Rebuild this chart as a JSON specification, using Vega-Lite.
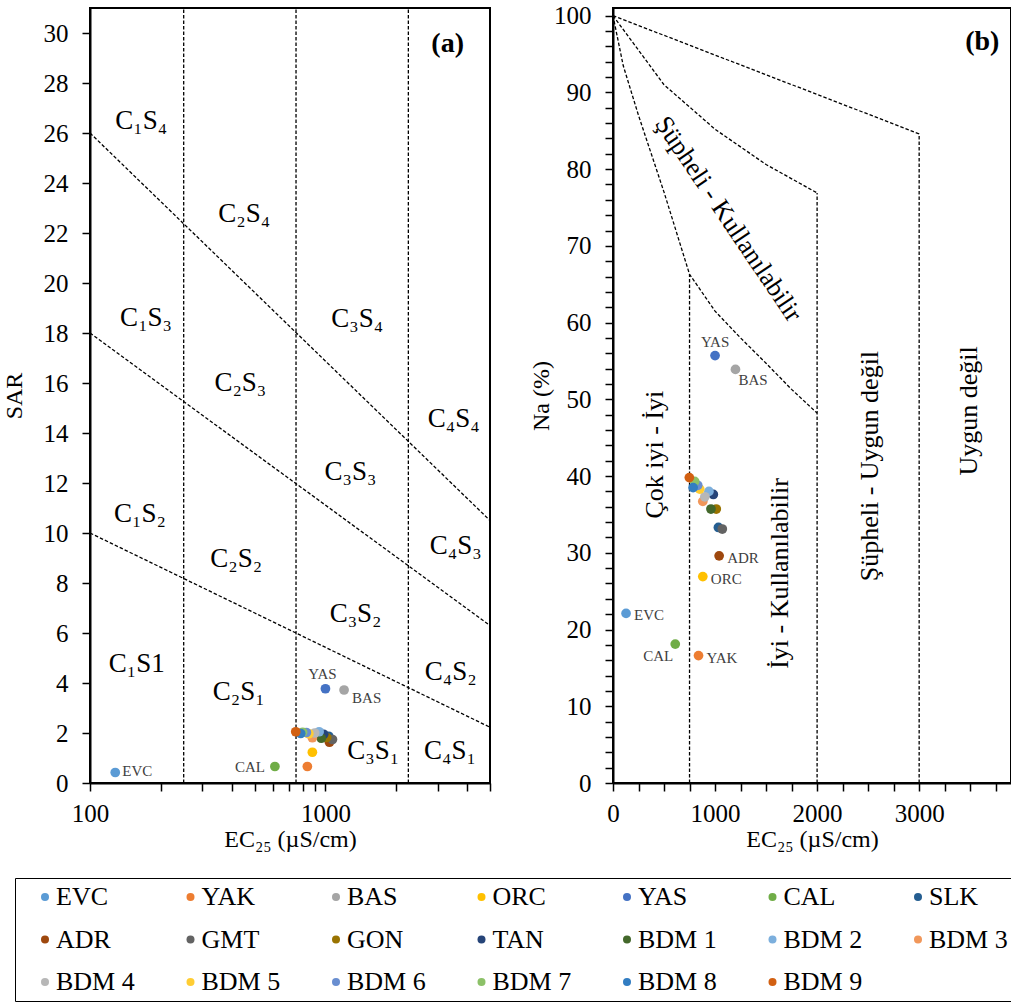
{
  "$schema": "https://vega.github.io/schema/vega-lite/v6.json",
  "autosize": {"type": "none"},
  "padding": {"left": 90, "top": 8, "right": 921, "bottom": 995},
  "background": "white",
  "config": {
    "font": "Liberation Serif",
    "view": {"stroke": "black", "strokeWidth": 2},
    "axis": {
      "grid": false,
      "domainColor": "black",
      "domainWidth": 2,
      "tickColor": "black",
      "tickWidth": 1.5,
      "tickSize": 8,
      "labelColor": "black",
      "labelFont": "Liberation Serif",
      "labelFontSize": 25,
      "labelPadding": 14,
      "labelOverlap": false,
      "labelFlush": false,
      "titleFont": "Liberation Serif",
      "titleFontSize": 24,
      "titleFontWeight": "normal",
      "titleColor": "black"
    }
  },
  "datasets": {
    "samples": [
      {"site": "EVC", "EC": 128, "SAR": 0.42, "Na": 22.1},
      {"site": "YAK", "EC": 838, "SAR": 0.66, "Na": 16.6},
      {"site": "BAS", "EC": 1200, "SAR": 3.72, "Na": 53.9},
      {"site": "ORC", "EC": 880, "SAR": 1.23, "Na": 26.9},
      {"site": "YAS", "EC": 1000, "SAR": 3.77, "Na": 55.7},
      {"site": "CAL", "EC": 610, "SAR": 0.66, "Na": 18.1},
      {"site": "SLK", "EC": 1033, "SAR": 1.87, "Na": 33.3},
      {"site": "ADR", "EC": 1040, "SAR": 1.63, "Na": 29.6},
      {"site": "GMT", "EC": 1071, "SAR": 1.74, "Na": 33.1},
      {"site": "GON", "EC": 1012, "SAR": 1.82, "Na": 35.7},
      {"site": "TAN", "EC": 983, "SAR": 1.95, "Na": 37.6},
      {"site": "BDM 1", "EC": 960, "SAR": 1.79, "Na": 35.7},
      {"site": "BDM 2", "EC": 940, "SAR": 2.05, "Na": 38.0},
      {"site": "BDM 3", "EC": 880, "SAR": 1.81, "Na": 36.7},
      {"site": "BDM 4", "EC": 900, "SAR": 2.0, "Na": 37.3},
      {"site": "BDM 5", "EC": 850, "SAR": 1.97, "Na": 38.3},
      {"site": "BDM 6", "EC": 830, "SAR": 2.02, "Na": 38.8},
      {"site": "BDM 7", "EC": 800, "SAR": 2.03, "Na": 39.3},
      {"site": "BDM 8", "EC": 785, "SAR": 1.98, "Na": 38.5},
      {"site": "BDM 9", "EC": 748, "SAR": 2.05, "Na": 39.8}
    ],
    "linesA": [
      {"id": "L1", "EC": 100, "SAR": 26, "o": 1},
      {"id": "L1", "EC": 5000, "SAR": 10.5, "o": 2},
      {"id": "L2", "EC": 100, "SAR": 18, "o": 1},
      {"id": "L2", "EC": 5000, "SAR": 6.3, "o": 2},
      {"id": "L3", "EC": 100, "SAR": 10, "o": 1},
      {"id": "L3", "EC": 5000, "SAR": 2.23, "o": 2},
      {"id": "V1", "EC": 250, "SAR": 0, "o": 1},
      {"id": "V1", "EC": 250, "SAR": 31, "o": 2},
      {"id": "V2", "EC": 750, "SAR": 0, "o": 1},
      {"id": "V2", "EC": 750, "SAR": 31, "o": 2},
      {"id": "V3", "EC": 2250, "SAR": 0, "o": 1},
      {"id": "V3", "EC": 2250, "SAR": 31, "o": 2}
    ],
    "zonesA": [
      {"label": "C₁S₄", "EC": 165, "SAR": 26.5},
      {"label": "C₂S₄", "EC": 452, "SAR": 22.75},
      {"label": "C₁S₃", "EC": 173, "SAR": 18.6},
      {"label": "C₃S₄", "EC": 1365, "SAR": 18.55},
      {"label": "C₂S₃", "EC": 435, "SAR": 16.0},
      {"label": "C₄S₄", "EC": 3508, "SAR": 14.55},
      {"label": "C₃S₃", "EC": 1277, "SAR": 12.43},
      {"label": "C₁S₂", "EC": 163, "SAR": 10.76},
      {"label": "C₄S₃", "EC": 3573, "SAR": 9.5},
      {"label": "C₂S₂", "EC": 418, "SAR": 8.96},
      {"label": "C₃S₂", "EC": 1343, "SAR": 6.77},
      {"label": "C₁S1", "EC": 158, "SAR": 4.77},
      {"label": "C₄S₂", "EC": 3404, "SAR": 4.43},
      {"label": "C₂S₁", "EC": 428, "SAR": 3.64},
      {"label": "C₃S₁", "EC": 1596, "SAR": 1.3},
      {"label": "C₄S₁", "EC": 3380, "SAR": 1.3}
    ],
    "linesB": [
      {"id": "C1", "EC": 0, "Na": 100, "o": 1},
      {"id": "C1", "EC": 100, "Na": 93.5, "o": 2},
      {"id": "C1", "EC": 250, "Na": 87, "o": 3},
      {"id": "C1", "EC": 500, "Na": 77, "o": 4},
      {"id": "C1", "EC": 750, "Na": 66.3, "o": 5},
      {"id": "C1", "EC": 1000, "Na": 61.5, "o": 6},
      {"id": "C1", "EC": 1250, "Na": 58, "o": 7},
      {"id": "C1", "EC": 1500, "Na": 54.7, "o": 8},
      {"id": "C1", "EC": 1750, "Na": 51.3, "o": 9},
      {"id": "C1", "EC": 2000, "Na": 48.2, "o": 10},
      {"id": "C2", "EC": 0, "Na": 100, "o": 1},
      {"id": "C2", "EC": 500, "Na": 91, "o": 2},
      {"id": "C2", "EC": 1000, "Na": 85.2, "o": 3},
      {"id": "C2", "EC": 1500, "Na": 80.6, "o": 4},
      {"id": "C2", "EC": 2000, "Na": 76.9, "o": 5},
      {"id": "C3", "EC": 0, "Na": 100, "o": 1},
      {"id": "C3", "EC": 3000, "Na": 84.6, "o": 2},
      {"id": "V750", "EC": 750, "Na": 0, "o": 1},
      {"id": "V750", "EC": 750, "Na": 66.3, "o": 2},
      {"id": "V2000", "EC": 2000, "Na": 0, "o": 1},
      {"id": "V2000", "EC": 2000, "Na": 76.9, "o": 2},
      {"id": "V3000", "EC": 3000, "Na": 0, "o": 1},
      {"id": "V3000", "EC": 3000, "Na": 84.6, "o": 2}
    ],
    "zonesBv": [
      {"label": "Çok iyi - İyi", "EC": 410, "Na": 42.8},
      {"label": "İyi - Kullanılabilir", "EC": 1637, "Na": 27.3},
      {"label": "Şüpheli - Uygun değil", "EC": 2520, "Na": 41.3},
      {"label": "Uygun değil", "EC": 3485, "Na": 48.5}
    ],
    "zonesBd": [
      {"label": "Şüpheli - Kullanılabilir", "EC": 1130, "Na": 73.5}
    ]
  },
  "bounds": "flush",
  "spacing": 123,
  "hconcat": [
    {
      "width": 400,
      "height": 775,
      "encoding": {
        "x": {
          "field": "EC", "type": "quantitative",
          "scale": {"type": "log", "domain": [100, 5000], "nice": false},
          "axis": {
            "values": [100, 200, 300, 400, 500, 600, 700, 800, 900, 1000, 2000, 3000, 4000, 5000],
            "format": "d",
            "labelExpr": "datum.value == 100 || datum.value == 1000 ? datum.label : ''",
            "labelPadding": 10,
            "titlePadding": 1
          },
          "title": "EC₂₅ (µS/cm)"
        },
        "y": {
          "field": "SAR", "type": "quantitative",
          "scale": {"domain": [0, 31], "nice": false},
          "axis": {
            "values": [0, 2, 4, 6, 8, 10, 12, 14, 16, 18, 20, 22, 24, 26, 28, 30],
            "format": "d",
            "titlePadding": 17
          },
          "title": "SAR"
        }
      },
      "layer": [
        {
          "data": {"name": "linesA"},
          "mark": {"type": "line", "color": "black", "strokeWidth": 1.3, "strokeDash": [3.5, 2]},
          "encoding": {"detail": {"field": "id"}, "order": {"field": "o"}}
        },
        {
          "data": {"name": "zonesA"},
          "mark": {"type": "text", "fontSize": 27, "align": "center", "baseline": "middle", "color": "black"},
          "encoding": {"text": {"field": "label"}}
        },
        {
          "data": {"values": [{"label": "(a)", "EC": 3304, "SAR": 29.55}]},
          "mark": {"type": "text", "fontSize": 28, "fontWeight": "bold", "align": "center", "baseline": "middle", "color": "black"},
          "encoding": {"text": {"field": "label"}}
        },
        {
          "data": {"name": "samples"},
          "mark": {"type": "circle", "size": 95, "opacity": 1},
          "encoding": {
            "color": {
              "field": "site", "type": "nominal",
              "scale": {
                "domain": ["EVC", "YAK", "BAS", "ORC", "YAS", "CAL", "SLK", "ADR", "GMT", "GON", "TAN", "BDM 1", "BDM 2", "BDM 3", "BDM 4", "BDM 5", "BDM 6", "BDM 7", "BDM 8", "BDM 9"],
                "range": ["#5B9BD5", "#ED7D31", "#A5A5A5", "#FFC000", "#4472C4", "#70AD47", "#255E91", "#9E480E", "#636363", "#997300", "#264478", "#43682B", "#7CAFDD", "#F1975A", "#B7B7B7", "#FFCD33", "#698ED0", "#8CC168", "#327DC2", "#D26012"]
              },
              "legend": {
                "orient": "none", "legendX": -75, "legendY": 870,
                "title": null, "columns": 7, "direction": "horizontal",
                "symbolType": "circle", "symbolSize": 64, "symbolOpacity": 1,
                "labelFont": "Liberation Serif", "labelFontSize": 26, "labelColor": "black",
                "labelOffset": -2, "columnPadding": 31.5, "rowPadding": 16.5, "padding": 6,
                "strokeColor": "black", "symbolOffset": 11, "labelLimit": 0
              }
            }
          }
        },
        {
          "data": {"name": "samples"},
          "transform": [{"filter": {"field": "site", "oneOf": ["EVC"]}}],
          "mark": {"type": "text", "fontSize": 15, "align": "left", "baseline": "middle", "dx": 7, "dy": -2, "color": "#404040"},
          "encoding": {"text": {"field": "site"}}
        },
        {
          "data": {"name": "samples"},
          "transform": [{"filter": {"field": "site", "oneOf": ["CAL"]}}],
          "mark": {"type": "text", "fontSize": 15, "align": "right", "baseline": "middle", "dx": -10, "dy": 0, "color": "#404040"},
          "encoding": {"text": {"field": "site"}}
        },
        {
          "data": {"name": "samples"},
          "transform": [{"filter": {"field": "site", "oneOf": ["YAS"]}}],
          "mark": {"type": "text", "fontSize": 15, "align": "center", "baseline": "middle", "dx": -3, "dy": -15, "color": "#404040"},
          "encoding": {"text": {"field": "site"}}
        },
        {
          "data": {"name": "samples"},
          "transform": [{"filter": {"field": "site", "oneOf": ["BAS"]}}],
          "mark": {"type": "text", "fontSize": 15, "align": "left", "baseline": "middle", "dx": 8, "dy": 8, "color": "#404040"},
          "encoding": {"text": {"field": "site"}}
        }
      ]
    },
    {
      "width": 398,
      "height": 775,
      "encoding": {
        "x": {
          "field": "EC", "type": "quantitative",
          "scale": {"domain": [0, 3900], "nice": false, "zero": false},
          "axis": {
            "values": [0, 250, 500, 750, 1000, 1250, 1500, 1750, 2000, 2250, 2500, 2750, 3000, 3250, 3500, 3750],
            "format": "d",
            "labelExpr": "datum.value % 1000 === 0 ? datum.label : ''",
            "labelPadding": 10,
            "titlePadding": 1
          },
          "title": "EC₂₅ (µS/cm)"
        },
        "y": {
          "field": "Na", "type": "quantitative",
          "scale": {"domain": [0, 101], "nice": false},
          "axis": {
            "values": [0, 2, 4, 6, 8, 10, 12, 14, 16, 18, 20, 22, 24, 26, 28, 30, 32, 34, 36, 38, 40, 42, 44, 46, 48, 50, 52, 54, 56, 58, 60, 62, 64, 66, 68, 70, 72, 74, 76, 78, 80, 82, 84, 86, 88, 90, 92, 94, 96, 98, 100],
            "format": "d",
            "labelExpr": "datum.value % 10 === 0 ? datum.label : ''",
            "titlePadding": 0
          },
          "title": "Na (%)"
        }
      },
      "layer": [
        {
          "data": {"name": "linesB"},
          "mark": {"type": "line", "color": "black", "strokeWidth": 1.3, "strokeDash": [3.5, 2]},
          "encoding": {"detail": {"field": "id"}, "order": {"field": "o"}}
        },
        {
          "data": {"name": "zonesBv"},
          "mark": {"type": "text", "fontSize": 26, "align": "center", "baseline": "middle", "angle": 270, "color": "black"},
          "encoding": {"text": {"field": "label"}}
        },
        {
          "data": {"name": "zonesBd"},
          "mark": {"type": "text", "fontSize": 26, "align": "center", "baseline": "middle", "angle": 56, "color": "black"},
          "encoding": {"text": {"field": "label"}}
        },
        {
          "data": {"values": [{"label": "(b)", "EC": 3619, "Na": 96.6}]},
          "mark": {"type": "text", "fontSize": 28, "fontWeight": "bold", "align": "center", "baseline": "middle", "color": "black"},
          "encoding": {"text": {"field": "label"}}
        },
        {
          "data": {"name": "samples"},
          "mark": {"type": "circle", "size": 95, "opacity": 1},
          "encoding": {
            "color": {
              "field": "site", "type": "nominal",
              "scale": {
                "domain": ["EVC", "YAK", "BAS", "ORC", "YAS", "CAL", "SLK", "ADR", "GMT", "GON", "TAN", "BDM 1", "BDM 2", "BDM 3", "BDM 4", "BDM 5", "BDM 6", "BDM 7", "BDM 8", "BDM 9"],
                "range": ["#5B9BD5", "#ED7D31", "#A5A5A5", "#FFC000", "#4472C4", "#70AD47", "#255E91", "#9E480E", "#636363", "#997300", "#264478", "#43682B", "#7CAFDD", "#F1975A", "#B7B7B7", "#FFCD33", "#698ED0", "#8CC168", "#327DC2", "#D26012"]
              },
              "legend": {
                "orient": "none", "legendX": -75, "legendY": 870,
                "title": null, "columns": 7, "direction": "horizontal",
                "symbolType": "circle", "symbolSize": 64, "symbolOpacity": 1,
                "labelFont": "Liberation Serif", "labelFontSize": 26, "labelColor": "black",
                "labelOffset": -2, "columnPadding": 31.5, "rowPadding": 16.5, "padding": 6,
                "strokeColor": "black", "symbolOffset": 11, "labelLimit": 0
              }
            }
          }
        },
        {
          "data": {"name": "samples"},
          "transform": [{"filter": {"field": "site", "oneOf": ["EVC", "ADR", "ORC", "YAK"]}}],
          "mark": {"type": "text", "fontSize": 15, "align": "left", "baseline": "middle", "dx": 8, "dy": 2, "color": "#404040"},
          "encoding": {"text": {"field": "site"}}
        },
        {
          "data": {"name": "samples"},
          "transform": [{"filter": {"field": "site", "oneOf": ["YAS"]}}],
          "mark": {"type": "text", "fontSize": 15, "align": "center", "baseline": "middle", "dy": -14, "color": "#404040"},
          "encoding": {"text": {"field": "site"}}
        },
        {
          "data": {"name": "samples"},
          "transform": [{"filter": {"field": "site", "oneOf": ["BAS"]}}],
          "mark": {"type": "text", "fontSize": 15, "align": "left", "baseline": "middle", "dx": 3, "dy": 11, "color": "#404040"},
          "encoding": {"text": {"field": "site"}}
        },
        {
          "data": {"name": "samples"},
          "transform": [{"filter": {"field": "site", "oneOf": ["CAL"]}}],
          "mark": {"type": "text", "fontSize": 15, "align": "right", "baseline": "middle", "dx": -2, "dy": 12, "color": "#404040"},
          "encoding": {"text": {"field": "site"}}
        }
      ]
    }
  ]
}
